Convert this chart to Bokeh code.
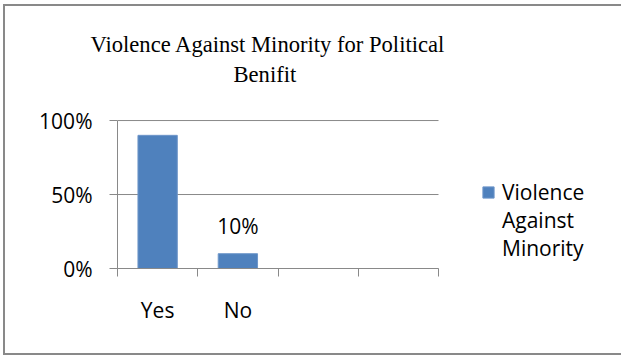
from bokeh.plotting import figure
from bokeh.models import (Range1d, FixedTicker, Legend, LegendItem, LinearAxis,
                          ColumnDataSource, Title, InlineStyleSheet)
from bokeh.core.properties import value
from bokeh.embed import file_html
from bokeh.resources import INLINE

# --- chart data ---------------------------------------------------------
title_lines = ["Violence Against Minority for Political", "Benifit"]
slot_labels = ["Yes", "No", "", ""]          # four category slots on the x axis
categories = ["Yes", "No"]
shares = [0.90, 0.10]
shown_labels = ["", "10%"]                   # data labels printed above bars
series_lines = ["Violence", "Against", "Minority"]   # wrapped series name
y_ticks = [0, 0.5, 1.0]
y_tick_labels = ["0%", "50%", "100%"]

# --- styling -------------------------------------------------------------
BLUE = "#4F81BD"
GREY = "#898989"
SANS = "Open Sans"
SERIF = "Liberation Serif"
FS = "21px"

n = len(slot_labels)
centers = [i + 0.5 for i in range(n)]
# the plotting frame runs on to the right edge so the legend sits inside it;
# the category axis itself only covers the n slots
x_end = n * (621 - 117) / (438 - 117)

p = figure(width=621, height=356, output_backend="svg", toolbar_location=None,
           x_range=Range1d(0, x_end), y_range=Range1d(0, 1.007), title=None,
           min_border_left=117, min_border_right=0,
           min_border_top=119, min_border_bottom=88)
p.outline_line_color = None
p.background_fill_color = "white"
p.border_fill_color = None
# chart area border (left, top, bottom; open on the right)
line = f"linear-gradient({GREY}, {GREY})"
p.stylesheets = [InlineStyleSheet(css=(
    ":host { background-color: white; "
    f"background-image: {line}, {line}, {line}; "
    "background-position: 3px 4px, 3px 4px, 3px 353px; "
    "background-size: 2px 351px, 618px 2px, 618px 2px; "
    "background-repeat: no-repeat; }"))]

# horizontal gridlines across the category slots
p.segment(x0=[0] * len(y_ticks), x1=[n] * len(y_ticks), y0=y_ticks, y1=y_ticks,
          line_color=GREY, line_width=1)

src = ColumnDataSource(dict(x=centers[:len(categories)], top=shares,
                            label=shown_labels, cat=categories))
bars = p.vbar(x="x", top="top", bottom=0, width=0.49, source=src,
              fill_color=BLUE, line_color="#6E96C9", line_width=1)
p.text(x="x", y="top", text="label", source=src, y_offset=-28,
       text_align="center", text_baseline="alphabetic",
       text_font=value(SANS), text_font_size=FS, text_color="black")
# swatch-less renderer for the wrapped continuation lines of the legend
blank = p.vbar(x=[], top=[], width=0.49, fill_alpha=0, line_alpha=0)

# x axis: labels centred in each slot, ticks on the slot boundaries
xa = p.xaxis[0]
xa.bounds = (0, n)
xa.ticker = FixedTicker(ticks=centers, minor_ticks=list(range(n + 1)))
xa.major_label_overrides = {c: lab for c, lab in zip(centers, slot_labels)}
xa.major_tick_in = 0
xa.major_tick_out = 0
xa.minor_tick_in = 0
xa.minor_tick_out = 8
xa.minor_tick_line_color = GREY
xa.axis_line_color = GREY
xa.major_label_standoff = 19
xa.major_label_text_font = SANS
xa.major_label_text_font_size = FS
xa.major_label_text_color = "black"

ya = p.yaxis[0]
ya.bounds = (0, 1)
ya.ticker = FixedTicker(ticks=y_ticks)
ya.major_label_overrides = {t: lab for t, lab in zip(y_ticks, y_tick_labels)}
ya.major_tick_in = 0
ya.major_tick_out = 8
ya.major_tick_line_color = GREY
ya.minor_tick_line_color = None
ya.axis_line_color = GREY
ya.major_label_standoff = 17
ya.major_label_text_font = SANS
ya.major_label_text_font_size = FS
ya.major_label_text_color = "black"

p.grid.visible = False

# blank strip between the frame and the title block (an unlabelled,
# lineless axis whose only job is to take up vertical space)
gap = LinearAxis(ticker=FixedTicker(ticks=[centers[0]]), axis_line_color=None,
                 major_tick_in=0, major_tick_out=33, minor_tick_in=0,
                 minor_tick_out=0, major_label_standoff=0,
                 major_tick_line_color=None, minor_tick_line_color=None,
                 major_label_overrides={centers[0]: ""},
                 major_label_text_font_size="1px")
p.add_layout(gap, "above")

# chart title: two lines, each centred over the chart area
# (the line nearest the frame is added first)
for txt, off, sd in zip(reversed(title_lines), [116, -27], [0, 6]):
    p.add_layout(Title(text=txt, align="left", offset=off, standoff=sd,
                       text_font=SERIF, text_font_size="22.6px",
                       text_font_style="normal", text_color="black"), "above")

items = [LegendItem(label=value(series_lines[0]), renderers=[bars])]
items += [LegendItem(label=value(t), renderers=[blank]) for t in series_lines[1:]]
legend = Legend(items=items, location=(364, 6), glyph_width=14, glyph_height=14,
                label_standoff=7, padding=0, margin=0, spacing=0,
                border_line_color=None, background_fill_alpha=0,
                label_text_font=SANS, label_text_font_size=FS,
                label_text_color="black")
p.add_layout(legend)

open("out.html", "w").write(file_html(p, INLINE))
